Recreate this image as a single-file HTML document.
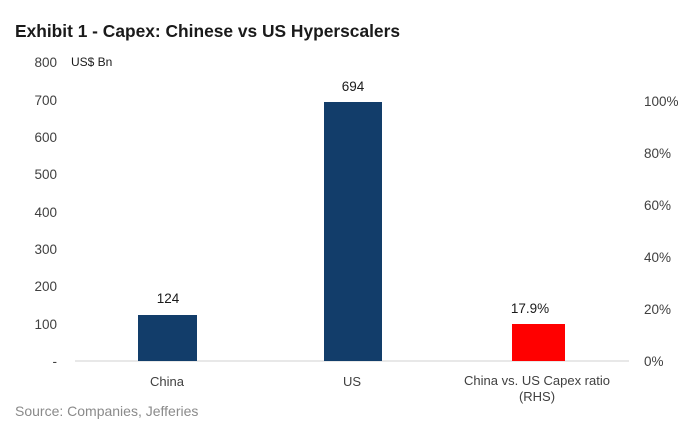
<!DOCTYPE html>
<html><head><meta charset="utf-8"><style>
html,body{margin:0;padding:0;background:#fff;}
svg{display:block;font-family:"Liberation Sans",sans-serif;}
</style></head><body>
<svg width="692" height="421" viewBox="0 0 692 421" xmlns="http://www.w3.org/2000/svg">
<text x="15" y="37" font-size="17.5" font-weight="bold" fill="#1a1a1a" textLength="385" lengthAdjust="spacingAndGlyphs">Exhibit 1 - Capex: Chinese vs US Hyperscalers</text>
<g font-size="13.5" fill="#404040" text-anchor="end">
<text x="57" y="67">800</text>
<text x="57" y="105">700</text>
<text x="57" y="142">600</text>
<text x="57" y="179">500</text>
<text x="57" y="217">400</text>
<text x="57" y="254">300</text>
<text x="57" y="291">200</text>
<text x="57" y="329">100</text>
<text x="57" y="366">-</text>
</g>
<text x="71" y="66" font-size="12" fill="#1a1a1a">US$ Bn</text>
<g font-size="13.5" fill="#404040">
<text x="644" y="106">100%</text>
<text x="644" y="158">80%</text>
<text x="644" y="210">60%</text>
<text x="644" y="262">40%</text>
<text x="644" y="314">20%</text>
<text x="644" y="366">0%</text>
</g>
<line x1="75" y1="361" x2="629" y2="361" stroke="#d0d0d0" stroke-width="1"/>
<rect x="138" y="315" width="59" height="46" fill="#123d6a"/>
<rect x="324" y="102" width="58" height="259" fill="#123d6a"/>
<rect x="512" y="324" width="53" height="37" fill="#ff0000"/>
<g font-size="13.5" fill="#1a1a1a" text-anchor="middle">
<text x="168" y="303">124</text>
<text x="353" y="91">694</text>
<text x="530" y="313">17.9%</text>
</g>
<g font-size="13" fill="#404040" text-anchor="middle">
<text x="167" y="386">China</text>
<text x="352" y="386">US</text>
<text x="537" y="385">China vs. US Capex ratio</text>
<text x="537" y="401">(RHS)</text>
</g>
<text x="15" y="416" font-size="14" fill="#8a8a8a">Source: Companies, Jefferies</text>
</svg>
</body></html>
